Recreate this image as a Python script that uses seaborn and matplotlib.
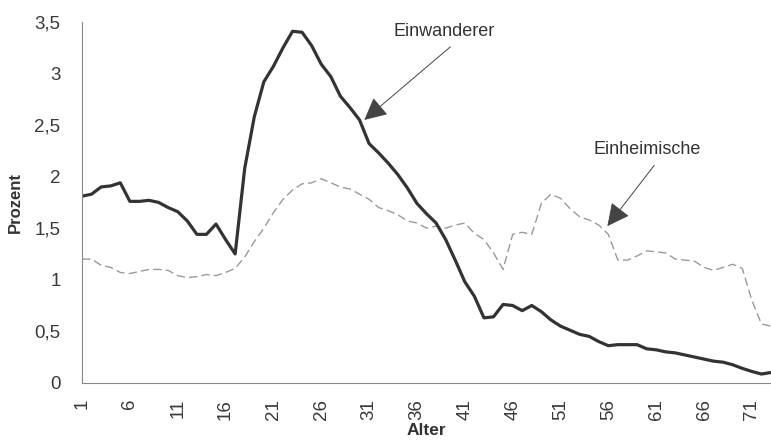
import seaborn as sns
import matplotlib.pyplot as plt
import pandas as pd

sns.set_style("white")
plt.rcParams["font.family"] = ["Liberation Sans", "DejaVu Sans"]

# Alter 1..73, Anteil in Prozent
alter = list(range(1, 74))

einwanderer = [
    1.81, 1.83, 1.90, 1.91, 1.94, 1.76, 1.76, 1.77, 1.75, 1.70,
    1.66, 1.57, 1.44, 1.44, 1.54, 1.39, 1.25, 2.08, 2.58, 2.92,
    3.07, 3.25, 3.41, 3.40, 3.27, 3.09, 2.97, 2.78, 2.67, 2.55,
    2.32, 2.23, 2.13, 2.02, 1.89, 1.74, 1.64, 1.55, 1.39, 1.19,
    0.98, 0.84, 0.63, 0.64, 0.76, 0.75, 0.70, 0.75, 0.69, 0.61,
    0.55, 0.51, 0.47, 0.45, 0.40, 0.36, 0.37, 0.37, 0.37, 0.33,
    0.32, 0.30, 0.29, 0.27, 0.25, 0.23, 0.21, 0.20, 0.175, 0.14,
    0.11, 0.085, 0.10,
]

einheimische = [
    1.20, 1.20, 1.14, 1.12, 1.07, 1.06, 1.08, 1.10, 1.10, 1.09,
    1.04, 1.02, 1.03, 1.05, 1.04, 1.07, 1.11, 1.22, 1.37, 1.50,
    1.65, 1.78, 1.87, 1.93, 1.94, 1.98, 1.94, 1.90, 1.88, 1.83,
    1.78, 1.70, 1.67, 1.63, 1.57, 1.55, 1.50, 1.52, 1.50, 1.53,
    1.55, 1.45, 1.39, 1.26, 1.10, 1.44, 1.46, 1.44, 1.74, 1.83,
    1.79, 1.69, 1.61, 1.58, 1.53, 1.44, 1.19, 1.19, 1.23, 1.28,
    1.27, 1.26, 1.20, 1.19, 1.18, 1.12, 1.09, 1.12, 1.15, 1.11,
    0.80, 0.57, 0.55,
]

x_ticks = list(range(1, 72, 5))
y_ticks = [0, 0.5, 1, 1.5, 2, 2.5, 3, 3.5]
y_labels = ["0", "0,5", "1", "1,5", "2", "2,5", "3", "3,5"]

df = pd.DataFrame({"Alter": alter, "Einwanderer": einwanderer,
                   "Einheimische": einheimische})

fig = plt.figure(figsize=(7.71, 4.40), dpi=100)
ax = fig.add_axes([0.1064, 0.130, 0.8936, 0.820])

sns.lineplot(data=df, x="Alter", y="Einheimische", ax=ax, color="#9a9a9a",
             lw=1.0, linestyle=(0, (6, 3)))
sns.lineplot(data=df, x="Alter", y="Einwanderer", ax=ax, color="#333333",
             lw=2.3)

ax.set_xlim(1, 73)
ax.set_ylim(0, 3.5)
ax.set_xticks(x_ticks)
ax.set_xticklabels([str(t) for t in x_ticks], rotation=90, fontsize=13.5,
                   color="#3a3a3a")
ax.set_yticks(y_ticks)
ax.set_yticklabels(y_labels, fontsize=13.5, color="#3a3a3a")
ax.tick_params(axis="y", direction="inout", length=9, width=0.8,
               color="#777777", pad=11)
ax.tick_params(axis="x", direction="inout", length=9, width=0.8,
               color="#777777", pad=7)

for side in ["top", "right"]:
    ax.spines[side].set_visible(False)
for side in ["left", "bottom"]:
    ax.spines[side].set_color("#888888")
    ax.spines[side].set_linewidth(0.8)

ax.set_xlabel("Alter", fontsize=12.5, fontweight="bold", color="#333333",
              labelpad=2)
ax.set_ylabel("Prozent", fontsize=12, fontweight="bold", color="#333333",
              labelpad=8)

arrow = dict(arrowstyle="-|>,head_length=1.4,head_width=0.7", color="#444444",
             lw=0.7, shrinkA=0, shrinkB=0)
ax.text(38.8, 3.41, "Einwanderer", fontsize=13, color="#333333",
        ha="center", va="center")
ax.annotate("", xy=(30.5, 2.55), xytext=(39.5, 3.26), arrowprops=arrow)
ax.text(60.1, 2.26, "Einheimische", fontsize=13, color="#333333",
        ha="center", va="center")
ax.annotate("", xy=(55.9, 1.52), xytext=(60.8, 2.11), arrowprops=arrow)

plt.savefig("out.png", dpi=100)
